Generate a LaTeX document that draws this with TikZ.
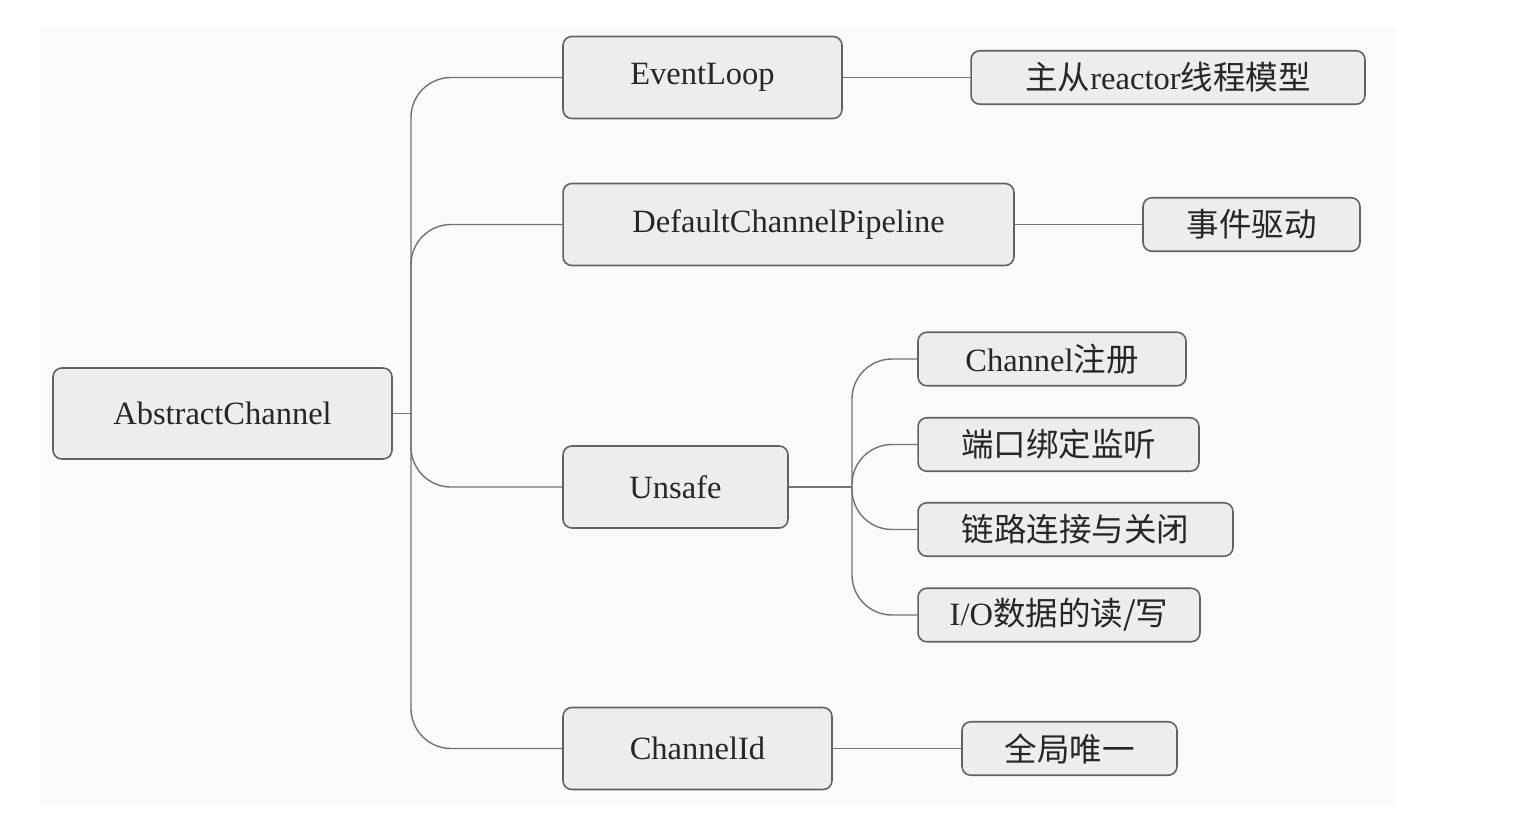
\documentclass[tikz,border=0pt]{standalone}
\usepackage{fontspec}
\setmainfont{Liberation Serif}
\newfontfamily\cjk{Noto Sans CJK SC}
\begin{document}
\begin{tikzpicture}[x=0.02cm,y=-0.02cm,
  box/.style={draw=black!62, line width=0.9pt, rounded corners=5pt, fill=black!7,
    inner sep=0pt, text=black!85, font=\fontsize{18.5}{20}\selectfont},
  big/.style={box, minimum height=1.64cm},
  small/.style={box, minimum height=1.07cm},
  conn/.style={draw=black!55, line width=0.8pt}]
\useasboundingbox (0,0) rectangle (1524,818);
\fill[black!2] (40,27) rectangle (1396,806);
% nodes
\node[box, minimum width=6.78cm, minimum height=1.82cm] (ac) at (222.5,413.5) {AbstractChannel};
\node[big, minimum width=5.58cm] (el) at (702.5,77.5) {EventLoop};
\node[big, minimum width=9.02cm] (dcp) at (788.5,224.5) {DefaultChannelPipeline};
\node[big, minimum width=4.50cm] (us) at (675.5,487) {Unsafe};
\node[big, minimum width=5.38cm] (cid) at (697.5,748.5) {ChannelId};
\node[small, minimum width=7.88cm] (r1) at (1168,77.5) {{\cjk 主从}reactor{\cjk 线程模型}};
\node[small, minimum width=4.34cm] (r2) at (1251.5,224.5) {\cjk 事件驱动};
\node[small, minimum width=5.36cm] (c1) at (1052,359) {Channel{\cjk 注册}};
\node[small, minimum width=5.62cm] (c2) at (1058.5,444.5) {\cjk 端口绑定监听};
\node[small, minimum width=6.30cm] (c3) at (1075.5,529.5) {\cjk 链路连接与关闭};
\node[small, minimum width=5.64cm] (c4) at (1059,615) {I/O{\cjk 数据的读/写}};
\node[small, minimum width=4.30cm] (r3) at (1069.5,748.5) {\cjk 全局唯一};
% connectors
\coordinate (t1) at (411,413.5);
\draw[conn] (ac.east) -- (t1);
\foreach \n in {el,dcp,us,cid}
  \draw[conn, rounded corners=0.8cm] (\n.west) -| (t1);
\coordinate (t2) at (852,487);
\draw[conn] (us.east) -- (t2);
\foreach \n in {c1,c2,c3,c4}
  \draw[conn, rounded corners=0.8cm] (\n.west) -| (t2);
\draw[conn] (el.east) -- (r1.west);
\draw[conn] (dcp.east) -- (r2.west);
\draw[conn] (cid.east) -- (r3.west);
\end{tikzpicture}
\end{document}
